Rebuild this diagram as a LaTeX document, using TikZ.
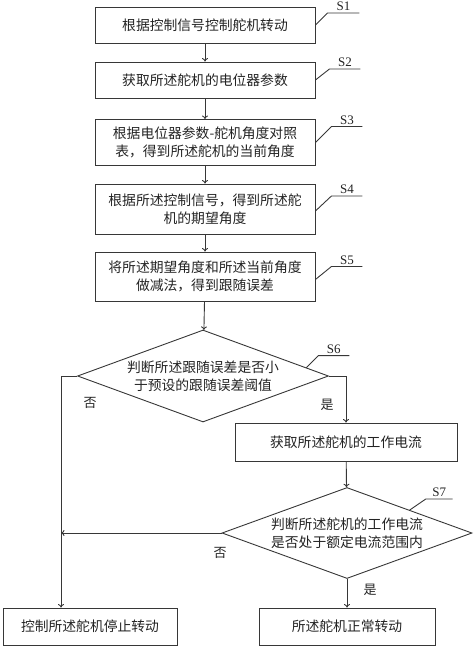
\documentclass[tikz,border=0pt]{standalone}
\usepackage{fontspec}
\setmainfont{Liberation Serif}
\newfontfamily\cjk{Noto Sans CJK SC}
\usetikzlibrary{shapes.geometric, arrows.meta, calc}
\definecolor{linegray}{RGB}{55, 55, 55}
\definecolor{textgray}{RGB}{35, 35, 35}

\begin{document}
\begin{tikzpicture}[x=1pt, y=-1pt,
    box/.style={rectangle, draw=linegray, line width=0.9pt, minimum width=220pt,
                minimum height=36pt, inner sep=0pt, align=center, text=textgray,
                font=\cjk\fontsize{13.8}{18}\selectfont},
    decision/.style={diamond, draw=linegray, line width=0.9pt, aspect=2.7,
                minimum width=251pt, minimum height=92pt, inner sep=0pt,
                align=center, text=textgray, font=\cjk\fontsize{13.8}{18}\selectfont},
    flow/.style={draw=linegray, line width=0.9pt, -{To[length=3.5pt, width=6pt]}},
    lead/.style={draw=linegray, line width=0.9pt},
    steplabel/.style={text=textgray, inner sep=1.5pt, font=\fontsize{13}{13}\selectfont},
    branch/.style={text=textgray, font=\cjk\fontsize{13}{13}\selectfont}]

    \useasboundingbox (0,0) rectangle (475,648);

    % Steps
    \node[box] (s1) at (205, 25) {根据控制信号控制舵机转动};
    \node[box] (s2) at (205, 80) {获取所述舵机的电位器参数};
    \node[box, minimum height=46pt] (s3) at (205, 142.5) {根据电位器参数-舵机角度对照\\表，得到所述舵机的当前角度};
    \node[box, minimum height=50pt] (s4) at (205, 209) {根据所述控制信号，得到所述舵\\机的期望角度};
    \node[box, minimum height=49pt] (s5) at (205, 276.5) {将所述期望角度和所述当前角度\\做减法，得到跟随误差};

    \node[decision] (d6) at (203, 376) {判断所述跟随误差是否小\\于预设的跟随误差阈值};
    \node[box, minimum width=222pt, minimum height=38pt] (cur) at (346, 442) {获取所述舵机的工作电流};
    \node[decision, minimum width=250pt, minimum height=91pt] (d7) at (347, 533) {判断所述舵机的工作电流\\是否处于额定电流范围内};

    \node[box, minimum width=174pt, minimum height=37pt] (stop) at (90, 626.5) {控制所述舵机停止转动};
    \node[box, minimum width=176pt, minimum height=37pt] (run) at (347, 626.5) {所述舵机正常转动};

    \coordinate (lc) at (61, 376);

    % Step labels
    \draw[lead] (s1.east) -- ++(12,-12) -- ++(32,0) node[midway, above, steplabel] {S1};
    \draw[lead] (s2.east) -- ++(14,-11) -- ++(31,0) node[midway, above, steplabel] {S2};
    \draw[lead] (s3.east) -- ++(16,-16) -- ++(31,0) node[midway, above, steplabel] {S3};
    \draw[lead] ([yshift=-2pt]s4.east) -- ++(16,-15) -- ++(31,0) node[midway, above, steplabel] {S4};
    \draw[lead] ([yshift=-3pt]s5.east) -- ++(16,-13) -- ++(31,0) node[midway, above, steplabel] {S5};
    \draw[lead] ($(d6.north)!0.82!(d6.east)$) -- ++(12,-12) -- ++(31,0) node[midway, above, steplabel] {S6};
    \draw[lead] ($(d7.north)!0.5!(d7.east)$) -- ++(16,-11) -- ++(27,0) node[midway, above, steplabel] {S7};

    % Arrows
    \draw[flow] (s1) -- (s2);
    \draw[flow] (s2) -- (s3);
    \draw[flow] (s3) -- (s4);
    \draw[flow] (s4) -- (s5);
    \draw[flow] (s5) -- (d6);
    \draw[flow] (d6.east) -| (cur.north);
    \draw[lead] (d6.west) -- (lc);
    \draw[flow] (lc) -- (lc |- stop.north);
    \draw[flow] (cur) -- (d7);
    \draw[flow] (d7.west) -- (d7.west -| lc);
    \draw[flow] (d7) -- (run);

    % Branch labels
    \node[branch] (no6) at (90, 403) {否};
    \node[branch] (yes6) at (327, 405) {是};
    \node[branch] (no7) at (220, 553) {否};
    \node[branch] (yes7) at (370, 590) {是};
\end{tikzpicture}
\end{document}
